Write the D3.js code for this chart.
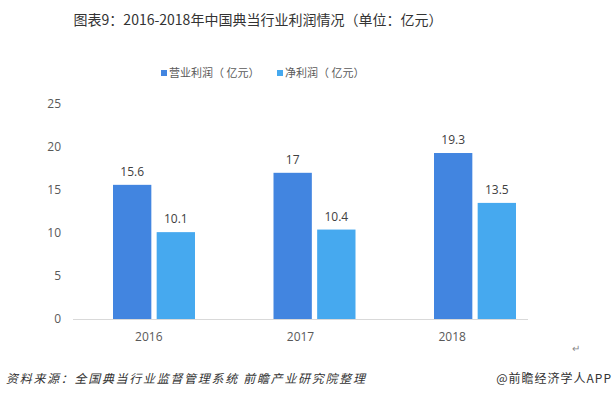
<!DOCTYPE html>
<html>
<head>
<meta charset="utf-8">
<script src="https://cdn.jsdelivr.net/npm/d3@7"></script>
<style>
    body { margin: 0; background: #fff; }
    svg { display: block; font-family: "Microsoft YaHei", "Noto Sans CJK SC", sans-serif; }
</style>
</head>
<body>
<svg width="613" height="398"></svg>
<script>
// chart data
const years = ["2016", "2017", "2018"];
const seriesNames = ["营业利润（ 亿元）", "净利润（ 亿元）"];
const operatingProfit = [15.6, 17, 19.3];
const netProfit = [10.1, 10.4, 13.5];
const yTicks = [0, 5, 10, 15, 20, 25];

const COLORS = ["#4285e0", "#46a9ef"],
    BAR_W = 36,
    BAR_GAP = 10;

const svg = d3.select("svg");

// title
svg.append("text")
    .attr("x", 258)
    .attr("y", 25)
    .attr("text-anchor", "middle")
    .style("font-size", "14px")
    .style("fill", "#333")
    .text("图表9：2016-2018年中国典当行业利润情况（单位：亿元）");

// legend
const legend = svg.append("g").attr("transform", "translate(161,73)");
const legendX = [0, 116];
seriesNames.forEach((name, i) => {
    const g = legend.append("g").attr("transform", `translate(${legendX[i]},0)`);
    g.append("rect")
        .attr("x", 0).attr("y", -3)
        .attr("width", 6).attr("height", 6)
        .attr("fill", COLORS[i]);
    g.append("text")
        .attr("x", 8)
        .attr("y", 0)
        .attr("dy", "0.35em")
        .style("font-size", "11px")
        .style("fill", "#595959")
        .text(name);
});

// scales
const y = d3.scaleLinear().domain([0, 25]).range([319, 104]);
const xLabel = d3.scaleBand().domain(years).range([73, 528]);
// bar groups sit a bit right of the label bands in the original
const xGroup = d3.scalePoint().domain(years).range([154, 475]);
const xInner = d3.scaleBand().domain([0, 1])
    .range([-(BAR_W + BAR_GAP / 2), BAR_W + BAR_GAP / 2])
    .paddingInner(BAR_GAP / (2 * BAR_W + BAR_GAP));

// y axis labels
svg.append("g")
    .selectAll("text")
    .data(yTicks)
    .join("text")
    .attr("x", 61)
    .attr("y", (d) => y(d))
    .attr("dy", "0.35em")
    .attr("text-anchor", "end")
    .style("font-size", "12px")
    .style("fill", "#595959")
    .style("font-family", "'Open Sans', sans-serif")
    .text((d) => d);

// baseline
svg.append("line")
    .attr("x1", 73).attr("x2", 528)
    .attr("y1", y(0) + 0.5).attr("y2", y(0) + 0.5)
    .attr("stroke", "#d9d9d9");

// x labels
svg.append("g")
    .selectAll("text")
    .data(years)
    .join("text")
    .attr("x", (d) => xLabel(d) + xLabel.bandwidth() / 2)
    .attr("y", 337)
    .attr("dy", "0.35em")
    .attr("text-anchor", "middle")
    .style("font-size", "12px")
    .style("fill", "#595959")
    .style("font-family", "'Open Sans', sans-serif")
    .text((d) => d);

// bars
const rows = [];
years.forEach((yr, i) => {
    rows.push({ year: yr, s: 0, v: operatingProfit[i] });
    rows.push({ year: yr, s: 1, v: netProfit[i] });
});

const bars = svg.append("g");
bars.selectAll("rect")
    .data(rows)
    .join("rect")
    .attr("x", (d) => xGroup(d.year) + xInner(d.s))
    .attr("y", (d) => y(d.v))
    .attr("width", xInner.bandwidth())
    .attr("height", (d) => y(0) - y(d.v))
    .attr("fill", (d) => COLORS[d.s]);

bars.selectAll("text")
    .data(rows)
    .join("text")
    .attr("x", (d) => xGroup(d.year) + xInner(d.s) + xInner.bandwidth() / 2)
    .attr("y", (d) => y(d.v) - 13)
    .attr("dy", "0.35em")
    .attr("text-anchor", "middle")
    .style("font-size", "12px")
    .style("fill", "#404040")
    .style("font-family", "'Open Sans', sans-serif")
    .text((d) => d.v);

// footer
svg.append("text")
    .attr("x", 6)
    .attr("y", 383)
    .style("font-size", "12px")
    .style("letter-spacing", "1.7px")
    .style("font-style", "italic")
    .style("fill", "#333")
    .text("资料来源：全国典当行业监督管理系统 前瞻产业研究院整理");

svg.append("text")
    .attr("x", 612)
    .attr("y", 383)
    .attr("text-anchor", "end")
    .style("font-size", "12px")
    .style("letter-spacing", "1px")
    .style("fill", "#333")
    .text("@前瞻经济学人APP");

svg.append("text")
    .attr("x", 572)
    .attr("y", 352)
    .style("font-size", "10px")
    .style("fill", "#888")
    .text("↵");
</script>
</body>
</html>
